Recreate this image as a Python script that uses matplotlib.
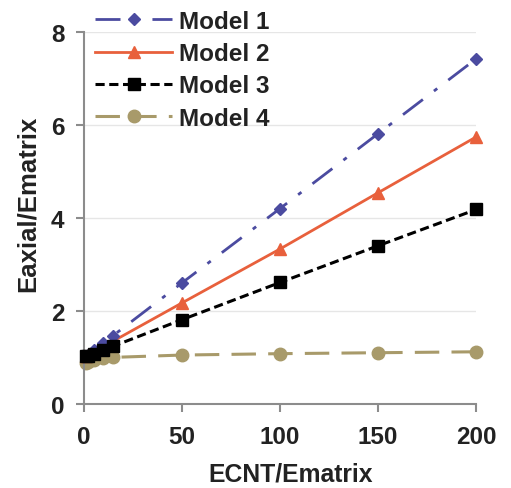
import matplotlib
matplotlib.use("Agg")
import matplotlib.pyplot as plt

plt.rcParams['font.family'] = ['Liberation Sans', 'DejaVu Sans']
plt.rcParams['font.weight'] = 'bold'

x = [1, 2, 5, 10, 15, 50, 100, 150, 200]
model1 = [1.03, 1.06, 1.15, 1.31, 1.47, 2.6, 4.2, 5.81, 7.42]
model2 = [1.02, 1.05, 1.12, 1.24, 1.35, 2.17, 3.33, 4.54, 5.74]
model3 = [1.02, 1.03, 1.08, 1.16, 1.24, 1.81, 2.61, 3.4, 4.18]
model4 = [0.88, 0.91, 0.95, 0.98, 1.0, 1.05, 1.08, 1.1, 1.12]
labels = ["Model 1", "Model 2", "Model 3", "Model 4"]
xticks = [0, 50, 100, 150, 200]
yticks = [0, 2, 4, 6, 8]

fig = plt.figure(figsize=(5.11, 4.89), dpi=100)
ax = fig.add_axes([0.164, 0.172, 0.768, 0.761])

ax.plot(x, model1, color='#4B4BA0', linestyle=(0, (9, 5, 1.5, 5)), lw=2,
        marker='D', ms=6, label=labels[0], clip_on=False, zorder=4)
ax.plot(x, model2, color='#E8603C', linestyle='-', lw=2,
        marker='^', ms=9, label=labels[1], clip_on=False, zorder=3)
ax.plot(x, model3, color='black', linestyle=(0, (3, 1.5)), lw=2.2,
        marker='s', ms=9, label=labels[2], clip_on=False, zorder=5)
ax.plot(x, model4, color='#A89A6A', linestyle=(0, (8, 4)), lw=2.2,
        marker='o', ms=9, label=labels[3], clip_on=False, zorder=2)

ax.set_xlim(0, 200)
ax.set_ylim(0, 8)
ax.set_xticks(xticks)
ax.set_yticks(yticks)
ax.yaxis.grid(True, color='#e6e6e6', lw=1)
ax.set_axisbelow(True)
for s in ['top', 'right']:
    ax.spines[s].set_visible(False)
for s in ['left', 'bottom']:
    ax.spines[s].set_color('#8c8c8c')
    ax.spines[s].set_linewidth(1.5)
ax.tick_params(axis='both', colors='#8c8c8c', width=1.5, length=6, direction='out')
for lab in ax.get_xticklabels() + ax.get_yticklabels():
    lab.set_color('#222222')
    lab.set_fontsize(17.5)
    lab.set_fontweight('bold')
ax.tick_params(axis='x', pad=9)
ax.tick_params(axis='y', pad=8)

ax.set_xlabel("ECNT/Ematrix", fontsize=17.8, fontweight='bold', color='#222222')
ax.set_ylabel("Eaxial/Ematrix", fontsize=18.5, fontweight='bold', color='#222222')
ax.xaxis.set_label_coords(0.528, -0.155)
ax.yaxis.set_label_coords(-0.112, 0.54)

leg = ax.legend(loc='upper left', bbox_to_anchor=(0.003, 1.085), frameon=False,
                fontsize=17.5, handlelength=3.2, handletextpad=0.25, labelspacing=0.38,
                borderaxespad=0)
for t in leg.get_texts():
    t.set_color('#222222')
    t.set_fontweight('bold')

fig.savefig("out.png", dpi=100)
